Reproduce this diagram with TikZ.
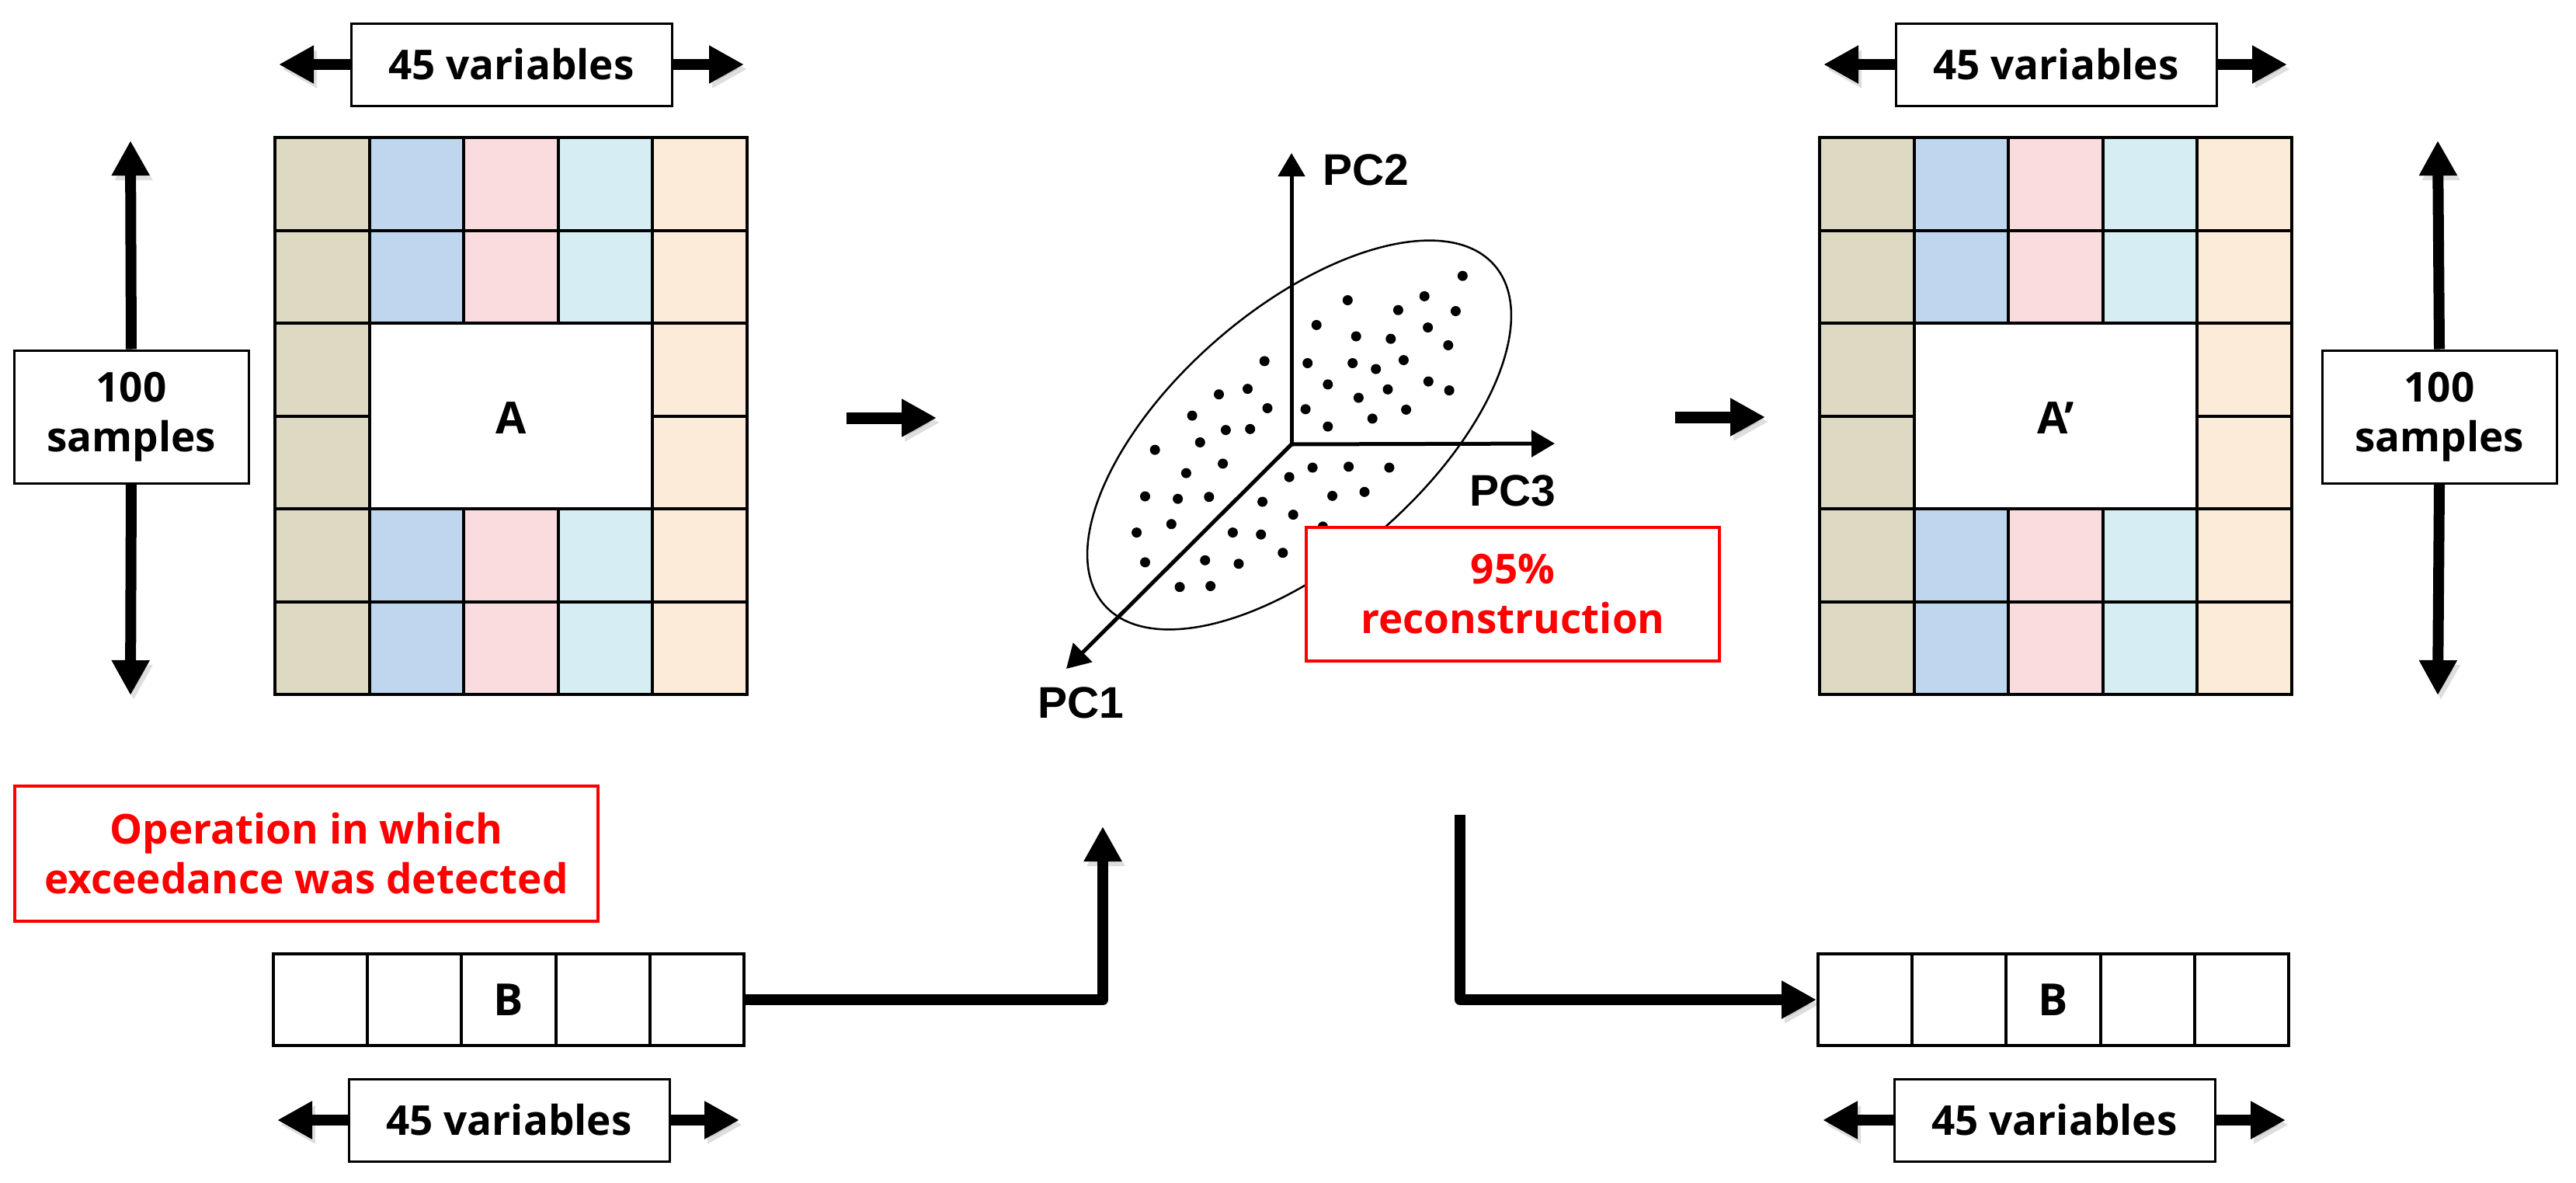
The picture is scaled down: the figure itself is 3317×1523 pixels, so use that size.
\documentclass[tikz,border=0pt]{standalone}
\usepackage{fontspec}
\setmainfont{Open Sans}
\newfontfamily\pcfont{Liberation Sans}
\usetikzlibrary{arrows.meta}
\definecolor{ctan}{RGB}{222,217,194}
\definecolor{cblue}{RGB}{190,215,238}
\definecolor{cpink}{RGB}{250,220,222}
\definecolor{ccyan}{RGB}{213,237,243}
\definecolor{cpeach}{RGB}{253,235,218}
\definecolor{cred}{RGB}{255,0,0}
\begin{document}
\begin{tikzpicture}[x=1pt,y=-1pt,
  txt/.style={font=\fontsize{53}{64}\selectfont\bfseries},
  lbl/.style={txt, draw=black, line width=3pt, fill=white, inner sep=0pt, align=center},
  varbox/.style={lbl, minimum width=413pt, minimum height=106pt},
  sampbox/.style={lbl, minimum width=302pt, minimum height=171pt},
  redbox/.style={txt, draw=cred, line width=3.5pt, fill=white, text=cred, inner sep=0pt, align=center},
  shade/.style={preaction={draw=black, opacity=0.13, transform canvas={shift={(4pt,-6pt)}}}},
  fat/.style={shade, line width=14pt, line join=round, -{Triangle[length=45pt,width=46pt]}},
  axis/.style={line width=5pt, -{Triangle[length=30pt,width=34pt]}},
  pclbl/.style={font=\fontsize{57}{60}\selectfont\pcfont\bfseries},
  gridline/.style={line width=4pt, line cap=rect},
  datagrid/.pic={
    \fill[ctan] (0,0) rectangle (121.6,717);
    \fill[cpeach] (486.4,0) rectangle (608,717);
    \fill[cblue] (121.6,0) rectangle (243.2,239);
    \fill[cpink] (243.2,0) rectangle (364.8,239);
    \fill[ccyan] (364.8,0) rectangle (486.4,239);
    \fill[cblue] (121.6,478) rectangle (243.2,717);
    \fill[cpink] (243.2,478) rectangle (364.8,717);
    \fill[ccyan] (364.8,478) rectangle (486.4,717);
    \draw[gridline] (0,0) rectangle (608,717);
    \draw[gridline] (121.6,0) -- (121.6,717) (486.4,0) -- (486.4,717);
    \draw[gridline] (243.2,0) -- (243.2,239) (364.8,0) -- (364.8,239);
    \draw[gridline] (243.2,478) -- (243.2,717) (364.8,478) -- (364.8,717);
    \draw[gridline] (0,119.5) -- (608,119.5) (0,239) -- (608,239)
                    (0,478) -- (608,478) (0,597.5) -- (608,597.5);
    \draw[gridline] (0,358.5) -- (121.6,358.5) (486.4,358.5) -- (608,358.5);
  },
  brow/.pic={
    \draw[gridline] (121.2,0) -- (121.2,118) (242.4,0) -- (242.4,118)
                    (363.6,0) -- (363.6,118) (484.8,0) -- (484.8,118);
  }
]
\useasboundingbox (0,0) rectangle (3317,1523);

% ---------- left matrix A ----------
\pic at (354,177) {datagrid};
\node[txt, font=\fontsize{57}{60}\selectfont\bfseries] (Amat) at (658,538) {A};

\node[varbox] (varTL) at (658.5,83) {45 variables};
\coordinate (vTLl) at (359,83);
\coordinate (vTLr) at (958,83);
\draw[fat] (varTL.west) -- (vTLl);
\draw[fat] (varTL.east) -- (vTLr);

\node[sampbox] (sampL) at (169,536.5) {100\\samples};
\coordinate (sLt) at (168,181);
\coordinate (sLb) at (168,895);
\draw[fat] (sampL.north) -- (sLt);
\draw[fat] (sampL.south) -- (sLb);

% ---------- right matrix A' ----------
\pic at (2343,177) {datagrid};
\node[txt, font=\fontsize{57}{60}\selectfont\bfseries] (Apr) at (2647,538) {A’};

\node[varbox] (varTR) at (2647.5,83) {45 variables};
\coordinate (vTRl) at (2348,83);
\coordinate (vTRr) at (2945,83);
\draw[fat] (varTR.west) -- (vTRl);
\draw[fat] (varTR.east) -- (vTRr);

\node[sampbox] (sampR) at (3141,536.5) {100\\samples};
\coordinate (sRt) at (3139,181);
\coordinate (sRb) at (3139,895);
\draw[fat] (sampR.north) -- (sRt);
\draw[fat] (sampR.south) -- (sRb);

% ---------- middle arrows ----------
\coordinate (m1a) at (1090,538);
\coordinate (m1b) at (1206,538);
\draw[fat, line width=15pt] (m1a) -- (m1b);
\coordinate (m2a) at (2157,537);
\coordinate (m2b) at (2273,537);
\draw[fat, line width=15pt] (m2a) -- (m2b);

% ---------- PCA plot ----------
\draw[line width=2.5pt, rotate around={41:(1673,560)}] (1673,560) ellipse [x radius=333pt, y radius=162pt];
\foreach \px/\py in {
1883.3/355.2, 1735.3/386.5, 1834.2/381.4, 1800.4/399.2, 1874.4/400.5,
1695.2/418.4, 1746.2/433.0, 1790.8/436.2, 1838.6/421.6, 1864.8/444.5,
1628.2/464.9, 1683.7/467.5, 1741.7/467.5, 1771.7/475.1, 1807.4/463.6,
1709.8/494.9, 1749.4/512.1, 1787.0/501.3, 1839.3/491.1, 1866.1/502.6,
1606.5/500.6, 1569.5/507.7, 1632.0/525.5, 1535.1/535.1, 1578.4/553.6,
1609.7/552.3, 1681.1/526.8, 1709.8/549.1, 1767.2/538.9, 1810.6/527.4,
1487.2/579.1, 1545.3/569.5, 1574.6/596.9, 1527.4/609.1, 1660.1/614.2,
1690.1/602.0, 1736.6/600.8, 1788.9/602.0, 1715.6/638.4, 1757.0/633.3,
1474.5/639.0, 1516.6/642.2, 1556.8/639.7, 1625.6/646.0, 1665.2/662.6,
1463.6/685.6, 1508.3/674.7, 1587.4/685.6, 1623.7/688.1, 1703.4/677.9,
1474.5/723.9, 1551.7/721.3, 1595.0/725.8, 1651.8/711.7, 1519.1/755.7,
1558.7/754.5}
  \fill (\px,\py) circle [radius=6.5pt];

\coordinate (O) at (1663,572);
\coordinate (pc2t) at (1663,197);
\coordinate (pc3t) at (2002,571);
\coordinate (pc1t) at (1373,861);
\draw[axis] (O) -- (pc2t);
\draw[axis] (O) -- (pc3t);
\draw[axis] (O) -- (pc1t);
\node[pclbl] (pc2) at (1759,219) {PC2};
\node[pclbl] (pc3) at (1948,632) {PC3};
\node[pclbl] (pc1) at (1392,905) {PC1};

\node[redbox, minimum width=532pt, minimum height=172pt] (rec) at (1948,765) {95\%\\reconstruction};

% ---------- bottom ----------
\node[redbox, minimum width=751pt, minimum height=174pt] (oper) at (394.5,1099) {Operation in which\\exceedance was detected};

\node[draw, line width=4pt, fill=white, minimum width=606pt, minimum height=118pt, inner sep=0pt] (Bl) at (655,1287) {};
\pic at (352,1228) {brow};
\node[txt, font=\fontsize{57}{60}\selectfont\bfseries] (BlT) at (655,1287) {B};

\node[draw, line width=4pt, fill=white, minimum width=606pt, minimum height=118pt, inner sep=0pt] (Br) at (2644,1287) {};
\pic at (2341,1228) {brow};
\node[txt, font=\fontsize{57}{60}\selectfont\bfseries] (BrT) at (2644,1287) {B};

\coordinate (up1) at (1420,1064);
\draw[fat] (Bl.east) -| (up1);
\coordinate (dn2) at (1880,1049);
\draw[fat] (dn2) |- (Br.west);

\node[varbox] (varBL) at (655.5,1442) {45 variables};
\coordinate (vBLl) at (357,1442);
\coordinate (vBLr) at (952,1442);
\draw[fat] (varBL.west) -- (vBLl);
\draw[fat] (varBL.east) -- (vBLr);

\node[varbox] (varBR) at (2645.5,1442) {45 variables};
\coordinate (vBRl) at (2347,1442);
\coordinate (vBRr) at (2943,1442);
\draw[fat] (varBR.west) -- (vBRl);
\draw[fat] (varBR.east) -- (vBRr);
\end{tikzpicture}
\end{document}
